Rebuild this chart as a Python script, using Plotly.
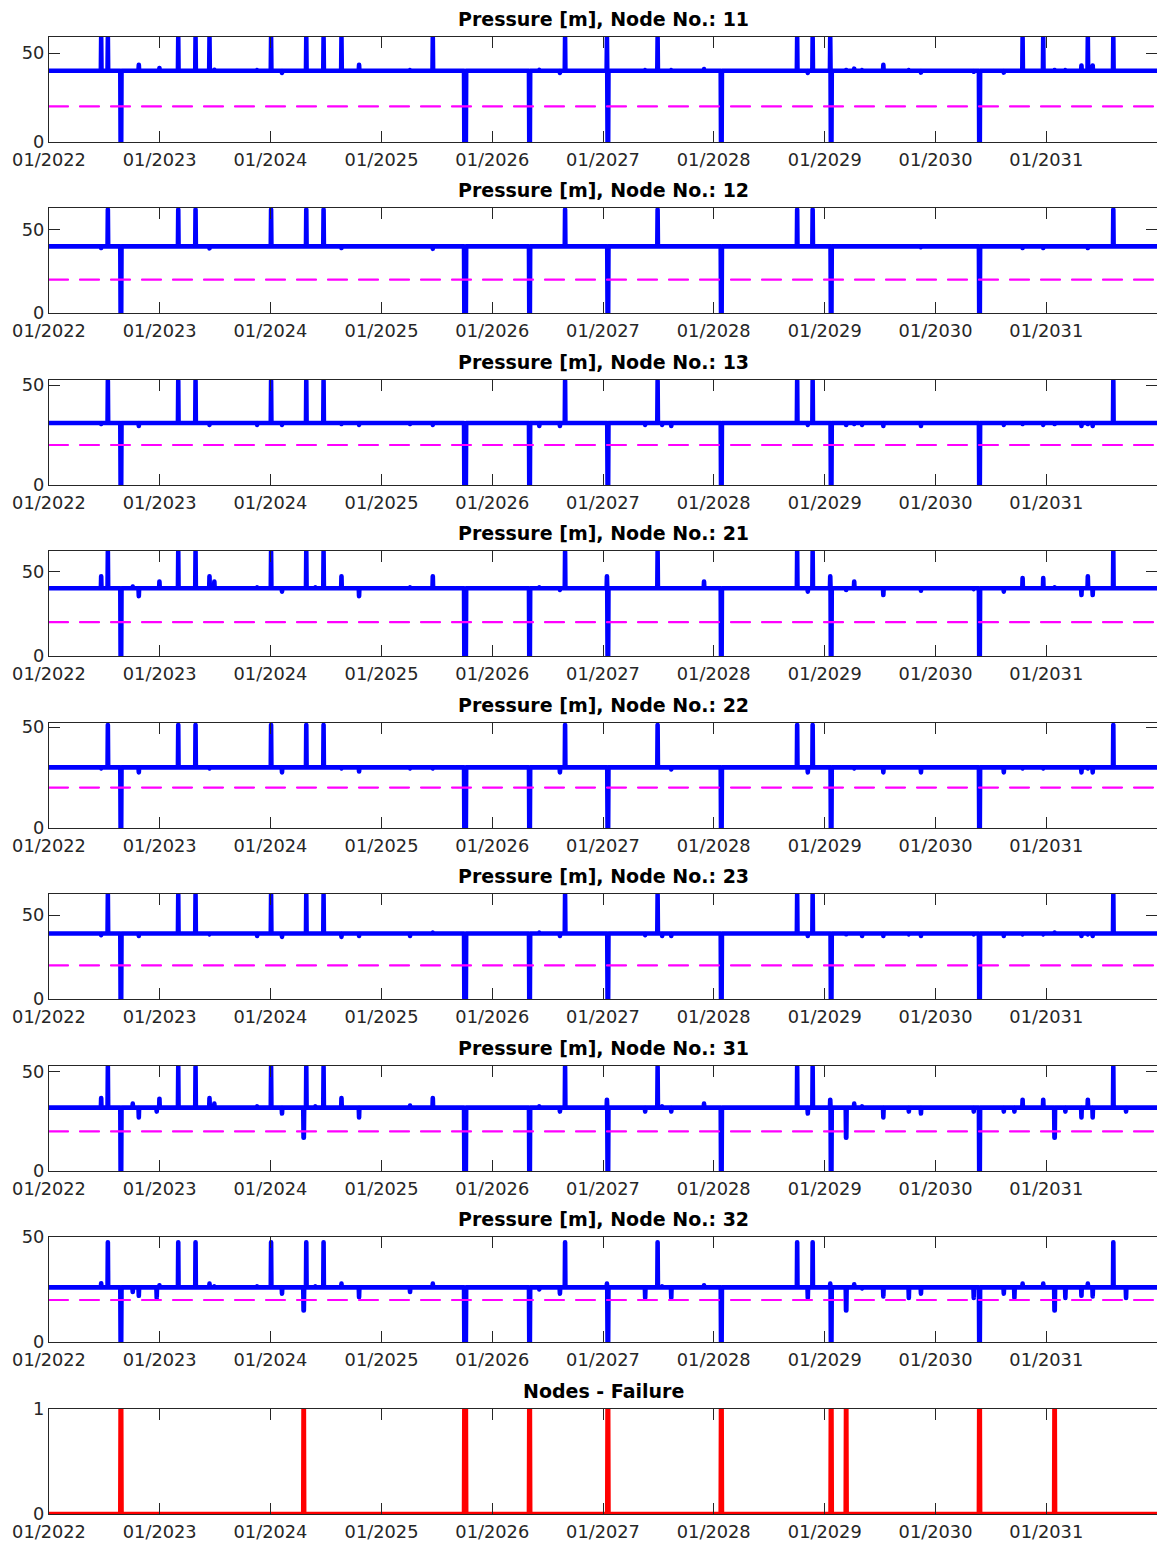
import numpy as np
import pandas as pd
import plotly.graph_objects as go

# ---------------- data ----------------
START, END = "2022-01-01", "2031-12-31"
THRESHOLD = 20
YEAR_TICKS = [f"{y}-01-01" for y in range(2022, 2032)]

EVENT_DATES = [
    "2022-06-22", "2022-07-14", "2022-08-25", "2022-10-04", "2022-10-24", "2022-12-22",
    "2022-12-31", "2023-03-03", "2023-04-29", "2023-06-14", "2023-06-30", "2023-11-18",
    "2024-01-03", "2024-02-08", "2024-04-19", "2024-04-28", "2024-05-28", "2024-06-24",
    "2024-08-22", "2024-10-19", "2025-04-05", "2025-06-19", "2025-10-01", "2026-05-03",
    "2026-06-05", "2026-08-12", "2026-08-29", "2027-01-14", "2027-01-16", "2027-05-20",
    "2027-06-30", "2027-07-15", "2027-08-14", "2027-11-30", "2028-01-25", "2028-10-02",
    "2028-11-06", "2028-11-22", "2029-01-19", "2029-01-21", "2029-03-12", "2029-04-08",
    "2029-05-04", "2029-07-13", "2029-10-05", "2029-11-14", "2030-05-07", "2030-05-25",
    "2030-08-14", "2030-09-18", "2030-10-15", "2030-12-22", "2031-01-28", "2031-03-05",
    "2031-04-27", "2031-05-18", "2031-06-03", "2031-08-10", "2031-09-21",
]

FAILURE_DATES = ["2022-08-25", "2024-04-19", "2025-10-01", "2026-05-03", "2027-01-16",
                 "2028-01-25", "2029-01-21", "2029-03-12", "2030-05-25", "2031-01-28"]
FAILURE_DAYS = [3, 2, 6, 3, 3, 3, 3, 2, 3, 2]

_ = None
NODE_NAMES = ["11", "12", "13", "21", "22", "23", "31", "32"]
NODE_BASE = [40, 40, 31, 40, 30, 39, 32, 26]
NODE_YMAX = [59, 63, 52.5, 62, 52, 62.5, 53, 50]

NODE11 = [58.5, 58.5, 0, _, 43.4, _, 41.6, 58.5, 58.5, 58.5, 40.6, 40.4,
          58.5, 38.8, _, 58.5, _, 58.5, 58.5, 43.4, 40.4, 58.5, 0, 0,
          40.5, 38.8, 58.5, 58.5, 0, 40.4, 58.5, _, 40.4, 41, 0, 58.5,
          38.8, 58.5, 58.5, 0, 40.4, 41.2, 40.4, 43.4, 40.4, 39, 39.5, 0,
          39, _, 58.5, 58.5, 40.4, 40.4, 43, 58.5, 43, 58.5, _]
NODE12 = [39, 62, 0, _, _, _, _, 62, 62, 38.8, _, _,
          62, _, _, 62, _, 62, 39, _, _, 38.5, 0, 0,
          _, _, 62, _, 0, _, 62, _, _, _, 0, 62,
          _, 62, _, 0, _, _, _, _, _, 39.5, _, 0,
          _, _, 39, 39, _, _, _, 39, _, 62, _]
NODE13 = [30.5, 52, 0, _, 29.5, _, _, 52, 52, 30, _, 30,
          52, 30, _, 52, _, 52, 30.5, 30, 30.5, 30, 0, 0,
          29.5, 29.5, 52, _, 0, 30, 52, 30, 29.5, _, 0, 52,
          30, 52, _, 0, 30, 30.5, 30, 29.5, _, 29.5, _, 0,
          30, _, 30.5, 30, 30.5, _, 29.5, 30.5, 29.5, 52, _]
NODE21 = [47, 61.5, 0, 41, 35.3, _, 44, 61.5, 61.5, 47, 44, 40.5,
          61.5, 38, _, 61.5, 40.5, 61.5, 47, 35.3, 40.5, 47, 0, 0,
          40.5, 39, 61.5, 47, 0, _, 61.5, _, 40, 44, 0, 61.5,
          38, 61.5, 47, 0, 39, 44, _, 36, _, 38.5, 39.5, 0,
          38, _, 46, 46, 40.5, _, 36, 47, 36, 61.5, _]
NODE22 = [29.5, 51, 0, _, 27.5, _, _, 51, 51, 29.5, _, _,
          51, 27.5, _, 51, _, 51, 29.5, 28, 29.5, 29.5, 0, 0,
          _, 27.5, 51, _, 0, _, 51, _, 29, _, 0, 51,
          27.5, 51, _, 0, _, 29.5, _, 27.5, _, 27.5, _, 0,
          27.5, _, 29.5, 29.5, _, _, 27.5, 29.5, 27.5, 51, _]
NODE23 = [38, 62, 0, _, 37.5, _, _, 62, 62, 38.5, _, 37.5,
          62, 37, _, 62, _, 62, 37, 37.5, 37.5, 39.5, 0, 0,
          39.5, 37.5, 62, _, 0, 38, 62, 37.5, 37.5, _, 0, 62,
          37.5, 62, _, 0, 38.5, _, 37.5, 37.5, 38.5, 37.5, 38.5, 0,
          37.5, _, 38.5, 38.5, 39.5, _, 37.5, 38.5, 37.5, 62, _]
NODE31 = [36.8, 52.5, 0, 34, 27, 30, 36.5, 52.5, 52.5, 36.8, 34, 32.6,
          52.5, 29, 16.8, 52.5, 32.6, 52.5, 36.8, 27, 33, 36.8, 0, 0,
          32.6, 30, 52.5, 36, 0, 30, 52.5, 32.6, 30, 34, 0, 52.5,
          29, 52.5, 36, 0, 16.8, 34, 32.6, 27, 30, 29, 30, 0,
          30, 30, 36, 36, 16.8, 30, 27, 36, 27, 52.5, 30]
NODE32 = [28, 47.5, 0, 23.8, 22, 21, 27, 47.5, 47.5, 27.8, 26.5, 26.5,
          47.5, 23, 15, 47.5, 26.5, 47.5, 27.8, 21.4, 23.8, 27.8, 0, 0,
          25, 23, 47.5, 27.8, 0, 21, 47.5, 26.5, 21, 27, 0, 47.5,
          21, 47.5, 27.8, 0, 15, 27.5, 25.5, 21.7, 21, 23, 21, 0,
          23, 21, 27.8, 27.8, 15, 21, 22, 27.8, 21.7, 47.5, 21]
NODE_VALUES = [NODE11, NODE12, NODE13, NODE21, NODE22, NODE23, NODE31, NODE32]

# ---------------- build series ----------------
dates = pd.date_range(START, END, freq="D")
pos = {d: i for i, d in enumerate(dates)}
fail_len = dict(zip(pd.to_datetime(FAILURE_DATES), FAILURE_DAYS))


def build_series(base, values):
    y = np.full(len(dates), float(base))
    for ds, v in zip(EVENT_DATES, values):
        if v is None:
            continue
        d = pd.Timestamp(ds)
        n = fail_len.get(d, 1)
        i = pos[d]
        y[i:i + n] = v
    return y


fail = np.zeros(len(dates))
for ds, n in zip(FAILURE_DATES, FAILURE_DAYS):
    i = pos[pd.Timestamp(ds)]
    fail[i:i + n] = 1

# ---------------- layout ----------------
W, H = 1157, 1544
PLOT_TOPS = [37, 208, 380, 551, 723, 894, 1066, 1237, 1409]
PLOT_H = 105
FONT = "DejaVu Sans"
AX_COL = "#262626"

fig = go.Figure()
n_panels = 9
for k in range(n_panels):
    ax = "" if k == 0 else str(k + 1)
    xname, yname = "x" + ax, "y" + ax
    if k < 8:
        y = build_series(NODE_BASE[k], NODE_VALUES[k])
        fig.add_trace(go.Scatter(x=dates, y=y, mode="lines", xaxis=xname, yaxis=yname,
                                 line=dict(color="#0000FF", width=4.6, simplify=False),
                                 showlegend=False, hoverinfo="skip"))
        fig.add_trace(go.Scatter(x=[dates[0], dates[-1]], y=[THRESHOLD, THRESHOLD], mode="lines",
                                 xaxis=xname, yaxis=yname,
                                 line=dict(color="#FF00FF", width=2.2, dash="19px,12px"),
                                 showlegend=False, hoverinfo="skip"))
        title = f"Pressure [m], Node No.: {NODE_NAMES[k]}"
        yr = [0, NODE_YMAX[k]]
        ytv = [0, 50]
    else:
        fig.add_trace(go.Scatter(x=dates, y=fail, mode="lines", xaxis=xname, yaxis=yname,
                                 line=dict(color="#FF0000", width=4.6, simplify=False),
                                 showlegend=False, hoverinfo="skip"))
        title = "Nodes - Failure"
        yr = [0, 1]
        ytv = [0, 1]

    top = PLOT_TOPS[k]
    dom = [1 - (top + PLOT_H) / H, 1 - top / H]
    fig.layout["xaxis" + ax] = dict(
        domain=[0, 1], anchor=yname, type="date", automargin=False,
        range=["2022-01-01", "2032-01-01"], tickvals=YEAR_TICKS, tickformat="%m/%Y",
        ticks="inside", ticklen=11, tickwidth=1, tickcolor=AX_COL,
        showline=True, linecolor=AX_COL, linewidth=1, mirror="allticks",
        showgrid=False, zeroline=False, ticklabelstandoff=2,
        tickfont=dict(family=FONT, size=17.8, color=AX_COL),
    )
    fig.layout["yaxis" + ax] = dict(
        domain=dom, anchor=xname, range=yr, tickvals=ytv, automargin=False,
        ticks="inside", ticklen=11, tickwidth=1, tickcolor=AX_COL,
        showline=True, linecolor=AX_COL, linewidth=1, mirror="allticks",
        showgrid=False, zeroline=False,
        tickfont=dict(family=FONT, size=17.8, color=AX_COL),
    )
    fig.add_annotation(text=f"<b>{title}</b>", xref="paper", yref="paper",
                       x=0.5, y=dom[1], xanchor="center", yanchor="middle", yshift=18,
                       showarrow=False, font=dict(family=FONT, size=19, color="#000000"))

fig.update_layout(width=W, height=H, margin=dict(l=49, r=0, t=0, b=0, autoexpand=False),
                  paper_bgcolor="white", plot_bgcolor="white", showlegend=False)

POST = (
    "document.body.style.margin='0px';document.body.style.overflow='hidden';"
    "document.querySelectorAll('.js-line').forEach(function(p){"
    "p.style.strokeLinejoin='round';p.style.strokeLinecap='round';});"
    "document.querySelectorAll('.scatterlayer [clip-path], .scatterlayer, g.plot').forEach("
    "function(g){g.removeAttribute('clip-path');});"
)
fig.write_html("out.html", config={"displayModeBar": False}, post_script=POST)
